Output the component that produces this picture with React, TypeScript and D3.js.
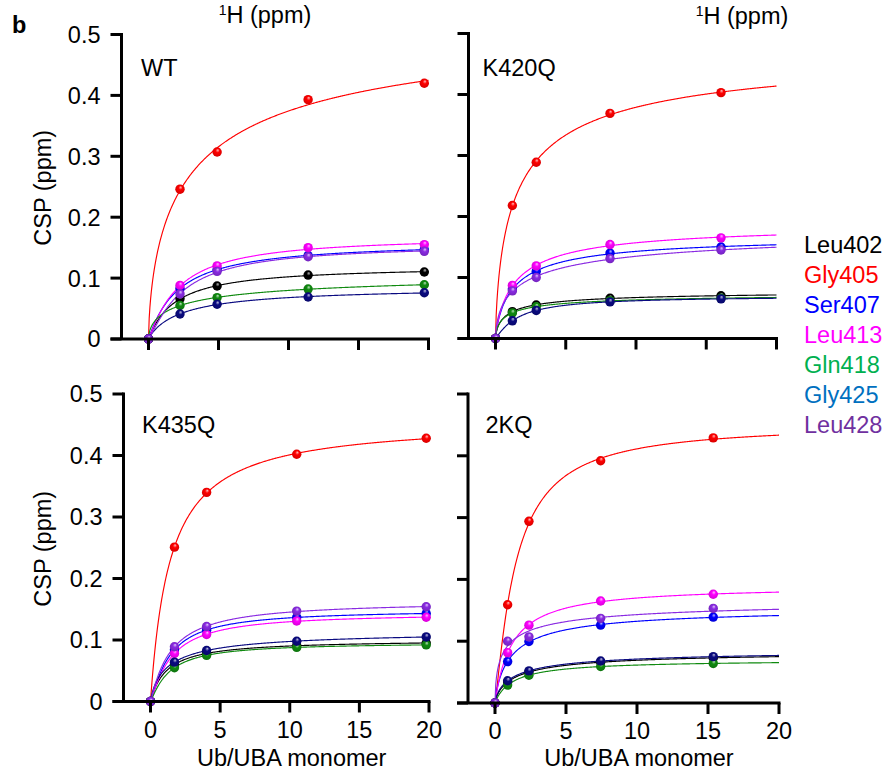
import React from "react";
import * as d3 from "d3";

const residues = ["Leu402", "Gly405", "Ser407", "Leu413", "Gln418", "Gly425", "Leu428"];
const plotColors = ["#000000", "#ff0000", "#0000ff", "#ff00ff", "#108a10", "#0a0a80", "#8a2be2"];
const legendColors = ["#000000", "#ff0000", "#0000ff", "#ff00ff", "#00b050", "#0070c0", "#7030a0"];

const panelNames = ["WT", "K420Q", "K435Q", "2KQ"];

const xWT = [0, 2.25, 4.9, 11.4, 19.7];
const yWT = [
  [0, 0.066, 0.087, 0.105, 0.110],
  [0, 0.246, 0.307, 0.393, 0.420],
  [0, 0.083, 0.114, 0.137, 0.147],
  [0, 0.088, 0.120, 0.150, 0.155],
  [0, 0.055, 0.068, 0.082, 0.089],
  [0, 0.041, 0.057, 0.069, 0.076],
  [0, 0.074, 0.111, 0.135, 0.144],
];

const xK420Q = [0, 1.2, 2.9, 8.15, 16.05];
const yK420Q = [
  [0, 0.044, 0.055, 0.066, 0.070],
  [0, 0.218, 0.289, 0.369, 0.403],
  [0, 0.081, 0.110, 0.140, 0.150],
  [0, 0.087, 0.119, 0.154, 0.165],
  [0, 0.042, 0.052, 0.062, 0.066],
  [0, 0.029, 0.046, 0.060, 0.065],
  [0, 0.078, 0.100, 0.131, 0.145],
];

const xK435Q = [0, 1.72, 4.03, 10.5, 19.8];
const yK435Q = [
  [0, 0.060, 0.078, 0.091, 0.095],
  [0, 0.251, 0.340, 0.402, 0.428],
  [0, 0.084, 0.116, 0.137, 0.143],
  [0, 0.078, 0.109, 0.131, 0.137],
  [0, 0.055, 0.075, 0.088, 0.092],
  [0, 0.064, 0.083, 0.098, 0.105],
  [0, 0.089, 0.122, 0.147, 0.154],
];

const x2KQ = [0, 0.89, 2.39, 7.44, 15.37];
const y2KQ = [
  [0, 0.034, 0.050, 0.066, 0.073],
  [0, 0.159, 0.294, 0.392, 0.429],
  [0, 0.067, 0.0995, 0.126, 0.139],
  [0, 0.0815, 0.126, 0.165, 0.176],
  [0, 0.029, 0.045, 0.059, 0.064],
  [0, 0.036, 0.052, 0.068, 0.075],
  [0, 0.100, 0.107, 0.137, 0.153],
];

const yTicks = [0, 0.1, 0.2, 0.3, 0.4, 0.5];
const xTicks = [0, 5, 10, 15, 20];

const panelX = [xWT, xK420Q, xK435Q, x2KQ];
const panelY = [yWT, yK420Q, yK435Q, y2KQ];

// saturation binding (Hill form) fitted to the plotted points by least squares
function hill(x: number, k: number, n: number) {
  if (x <= 0) return 0;
  const xn = Math.pow(x, n);
  return xn / (Math.pow(k, n) + xn);
}

function fitBinding(xs: number[], ys: number[]) {
  let best = { k: 1, n: 1, bmax: 0, err: Infinity };
  for (let a = 0; a <= 24; a++) {
    const n = 0.6 + a * 0.025;
    for (let i = 0; i <= 400; i++) {
      const k = Math.pow(10, -1.5 + (i / 400) * 3);
      let sfy = 0, sff = 0;
      for (let j = 0; j < xs.length; j++) {
        const f = hill(xs[j], k, n);
        sfy += f * ys[j];
        sff += f * f;
      }
      const bmax = sff > 0 ? sfy / sff : 0;
      let err = 0;
      for (let j = 0; j < xs.length; j++) {
        const r = ys[j] - bmax * hill(xs[j], k, n);
        err += r * r;
      }
      if (err < best.err) best = { k, n, bmax, err };
    }
  }
  return best;
}

const FONT = "'Liberation Sans', Arial, Helvetica, sans-serif";
const FS = 23.5;

type Layout = { x0: number; x20: number; y0: number; y5: number; showYLabels: boolean; showXLabels: boolean; labelX: number; labelY: number };

const layouts: Layout[] = [
  { x0: 148.5, x20: 428.5, y0: 339, y5: 34.5, showYLabels: true, showXLabels: false, labelX: 141, labelY: 75.5 },
  { x0: 495.5, x20: 776.5, y0: 338.5, y5: 33.5, showYLabels: false, showXLabels: false, labelX: 482.5, labelY: 76 },
  { x0: 150.5, x20: 429, y0: 701.5, y5: 394, showYLabels: true, showXLabels: true, labelX: 142, labelY: 433 },
  { x0: 495, x20: 779, y0: 703, y5: 394, showYLabels: false, showXLabels: true, labelX: 485.5, labelY: 433 },
];

function Panel({ idx }: { idx: number }) {
  const L = layouts[idx];
  const xs = panelX[idx];
  const ysAll = panelY[idx];
  const x = d3.scaleLinear().domain([0, 20]).range([L.x0, L.x20]);
  const y = d3.scaleLinear().domain([0, 0.5]).range([L.y0, L.y5]);
  const axisX = L.x0 - 27;
  const tickLen = 11;
  const samples = d3.range(0, 20.0001, 0.05);

  return (
    <g>
      {ysAll.map((ys, s) => {
        const fit = fitBinding(xs, ys);
        const path = d3
          .line<number>()
          .x((d) => x(d))
          .y((d) => y(fit.bmax * hill(d, fit.k, fit.n)))(samples);
        return <path key={"c" + s} d={path || ""} fill="none" stroke={plotColors[s]} strokeWidth={1.15} />;
      })}
      {ysAll.map((ys, s) =>
        ys.map((v, i) => (
          <circle key={"p" + s + "-" + i} cx={x(xs[i])} cy={y(v)} r={4.7} fill={`url(#ball${s})`} />
        ))
      )}
      <line x1={axisX} x2={axisX} y1={y(0)} y2={y(0.5) - 1.5} stroke="#000" strokeWidth={3} />
      <line x1={axisX - tickLen} x2={x(20) + 1.5} y1={y(0)} y2={y(0)} stroke="#000" strokeWidth={3} />
      {yTicks.map((t) => (
        <line key={"yt" + t} x1={axisX - tickLen} x2={axisX} y1={y(t)} y2={y(t)} stroke="#000" strokeWidth={3} />
      ))}
      {xTicks.map((t) => (
        <line key={"xt" + t} x1={x(t)} x2={x(t)} y1={y(0)} y2={y(0) + tickLen} stroke="#000" strokeWidth={3} />
      ))}
      {L.showYLabels &&
        yTicks.map((t) => (
          <text key={"yl" + t} x={axisX - 21} y={y(t)} dy="0.36em" textAnchor="end" fontSize={FS} fontFamily={FONT}>
            {t === 0 ? "0" : t.toFixed(1)}
          </text>
        ))}
      {L.showXLabels &&
        xTicks.map((t) => (
          <text key={"xl" + t} x={x(t)} y={y(0) + 36} textAnchor="middle" fontSize={FS} fontFamily={FONT}>
            {t}
          </text>
        ))}
      {L.showXLabels && (
        <text x={(x(0) + x(20)) / 2 + 2} y={766} textAnchor="middle" fontSize={FS} fontFamily={FONT}>
          Ub/UBA monomer
        </text>
      )}
      {L.showYLabels && (
        <text
          transform={`translate(51,${(y(0) + y(0.5)) / 2 + 1}) rotate(-90)`}
          textAnchor="middle"
          fontSize={FS}
          fontFamily={FONT}
        >
          CSP (ppm)
        </text>
      )}
      <text x={L.labelX} y={L.labelY} fontSize={FS} fontFamily={FONT}>
        {panelNames[idx]}
      </text>
    </g>
  );
}

export default function App() {
  return (
    <svg
      width={886}
      height={774}
      viewBox="0 0 886 774"
      style={{ position: "absolute", left: 0, top: 0, background: "#fff" }}
    >
      <defs>
        {plotColors.map((c, i) => {
          const dark = d3.color(c)!.darker(0.6).formatHex();
          const light = d3.interpolateRgb(c, "#ffffff")(0.75);
          return (
            <radialGradient key={i} id={`ball${i}`} cx="50%" cy="50%" r="60%" fx="58%" fy="28%">
              <stop offset="0%" stopColor={light} />
              <stop offset="35%" stopColor={c} />
              <stop offset="100%" stopColor={dark} />
            </radialGradient>
          );
        })}
      </defs>
      <rect x={0} y={0} width={886} height={774} fill="#fff" />
      <text x={12} y={33} fontSize={FS} fontWeight="bold" fontFamily={FONT}>
        b
      </text>
      <text x={265} y={23} textAnchor="middle" fontSize={FS} fontFamily={FONT}>
        <tspan fontSize={14} dy={-8}>1</tspan>
        <tspan dy={8}>H (ppm)</tspan>
      </text>
      <text x={742} y={24} textAnchor="middle" fontSize={FS} fontFamily={FONT}>
        <tspan fontSize={14} dy={-8}>1</tspan>
        <tspan dy={8}>H (ppm)</tspan>
      </text>
      {[0, 1, 2, 3].map((i) => (
        <Panel key={i} idx={i} />
      ))}
      {residues.map((r, i) => (
        <text key={r} x={804} y={253.3 + i * 30} fontSize={FS} fontFamily={FONT} fill={legendColors[i]}>
          {r}
        </text>
      ))}
    </svg>
  );
}
